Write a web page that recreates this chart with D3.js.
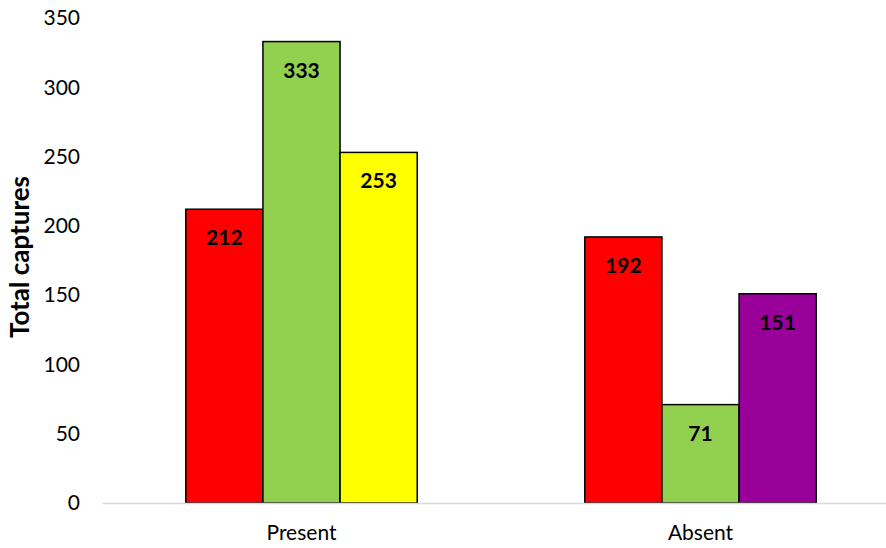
<!DOCTYPE html>
<html>
<head>
<meta charset="utf-8">
<script src="https://cdn.jsdelivr.net/npm/d3@7"></script>
<style>
  html, body { margin: 0; padding: 0; background: #fff; }
  svg { display: block; }
  text { font-family: Lato, "Open Sans", sans-serif; }
</style>
</head>
<body>
<svg id="chart" width="886" height="548"></svg>
<script>
// Total captures per site condition, three bars per condition
const categories = ["Present", "Absent"];
const presentValues = [212, 333, 253];
const absentValues = [192, 71, 151];
const presentColors = ["#FF0000", "#92D050", "#FFFF00"];
const absentColors = ["#FF0000", "#92D050", "#990099"];
const yTicks = [0, 50, 100, 150, 200, 250, 300, 350];

const groups = [
  { cat: categories[0], values: presentValues, colors: presentColors },
  { cat: categories[1], values: absentValues, colors: absentColors }
];

const svg = d3.select("#chart");
const margin = { left: 102, right: 900, top: 18, bottom: 503 };

const x = d3.scaleBand()
  .domain(categories)
  .range([margin.left, margin.right])
  .paddingInner(0.42)
  .paddingOuter(0.21);

const y = d3.scaleLinear().domain([0, 350]).range([margin.bottom, margin.top]);

// y tick labels (no axis line, no gridlines)
const yAxis = d3.axisLeft(y).tickValues(yTicks).tickSize(0).tickPadding(0);
const gy = svg.append("g").attr("transform", "translate(80,0)").call(yAxis);
gy.select(".domain").remove();
gy.selectAll("text")
  .attr("font-family", "Lato, 'Open Sans', sans-serif")
  .attr("font-size", 21)
  .attr("fill", "#000");

// y axis title
svg.append("text")
  .attr("transform", "translate(29,257) rotate(-90)")
  .attr("text-anchor", "middle")
  .attr("font-size", 26)
  .attr("font-weight", "bold")
  .attr("fill", "#000")
  .text("Total captures");

// bars
groups.forEach(g => {
  const inner = d3.scaleBand()
    .domain(d3.range(g.values.length))
    .range([x(g.cat), x(g.cat) + x.bandwidth()]);
  const gg = svg.append("g");
  gg.selectAll("rect")
    .data(g.values)
    .join("rect")
    .attr("x", (d, i) => inner(i))
    .attr("y", d => y(d))
    .attr("width", inner.bandwidth())
    .attr("height", d => y(0) - y(d))
    .attr("fill", (d, i) => g.colors[i])
    .attr("stroke", "#000")
    .attr("stroke-width", 1.5);
  gg.selectAll("text")
    .data(g.values)
    .join("text")
    .attr("x", (d, i) => inner(i) + inner.bandwidth() / 2)
    .attr("y", d => y(d) + 36)
    .attr("text-anchor", "middle")
    .attr("font-size", 21)
    .attr("font-weight", "bold")
    .attr("fill", "#000")
    .text(d => d);
});

// x axis baseline and category labels
const xAxis = d3.axisBottom(x).tickSize(0).tickPadding(22);
const gx = svg.append("g").attr("transform", `translate(0,${margin.bottom})`).call(xAxis);
gx.select(".domain").attr("stroke", "#D9D9D9").attr("stroke-width", 1.5);
gx.selectAll("text")
  .attr("font-family", "Lato, 'Open Sans', sans-serif")
  .attr("font-size", 21)
  .attr("fill", "#000");
</script>
</body>
</html>
